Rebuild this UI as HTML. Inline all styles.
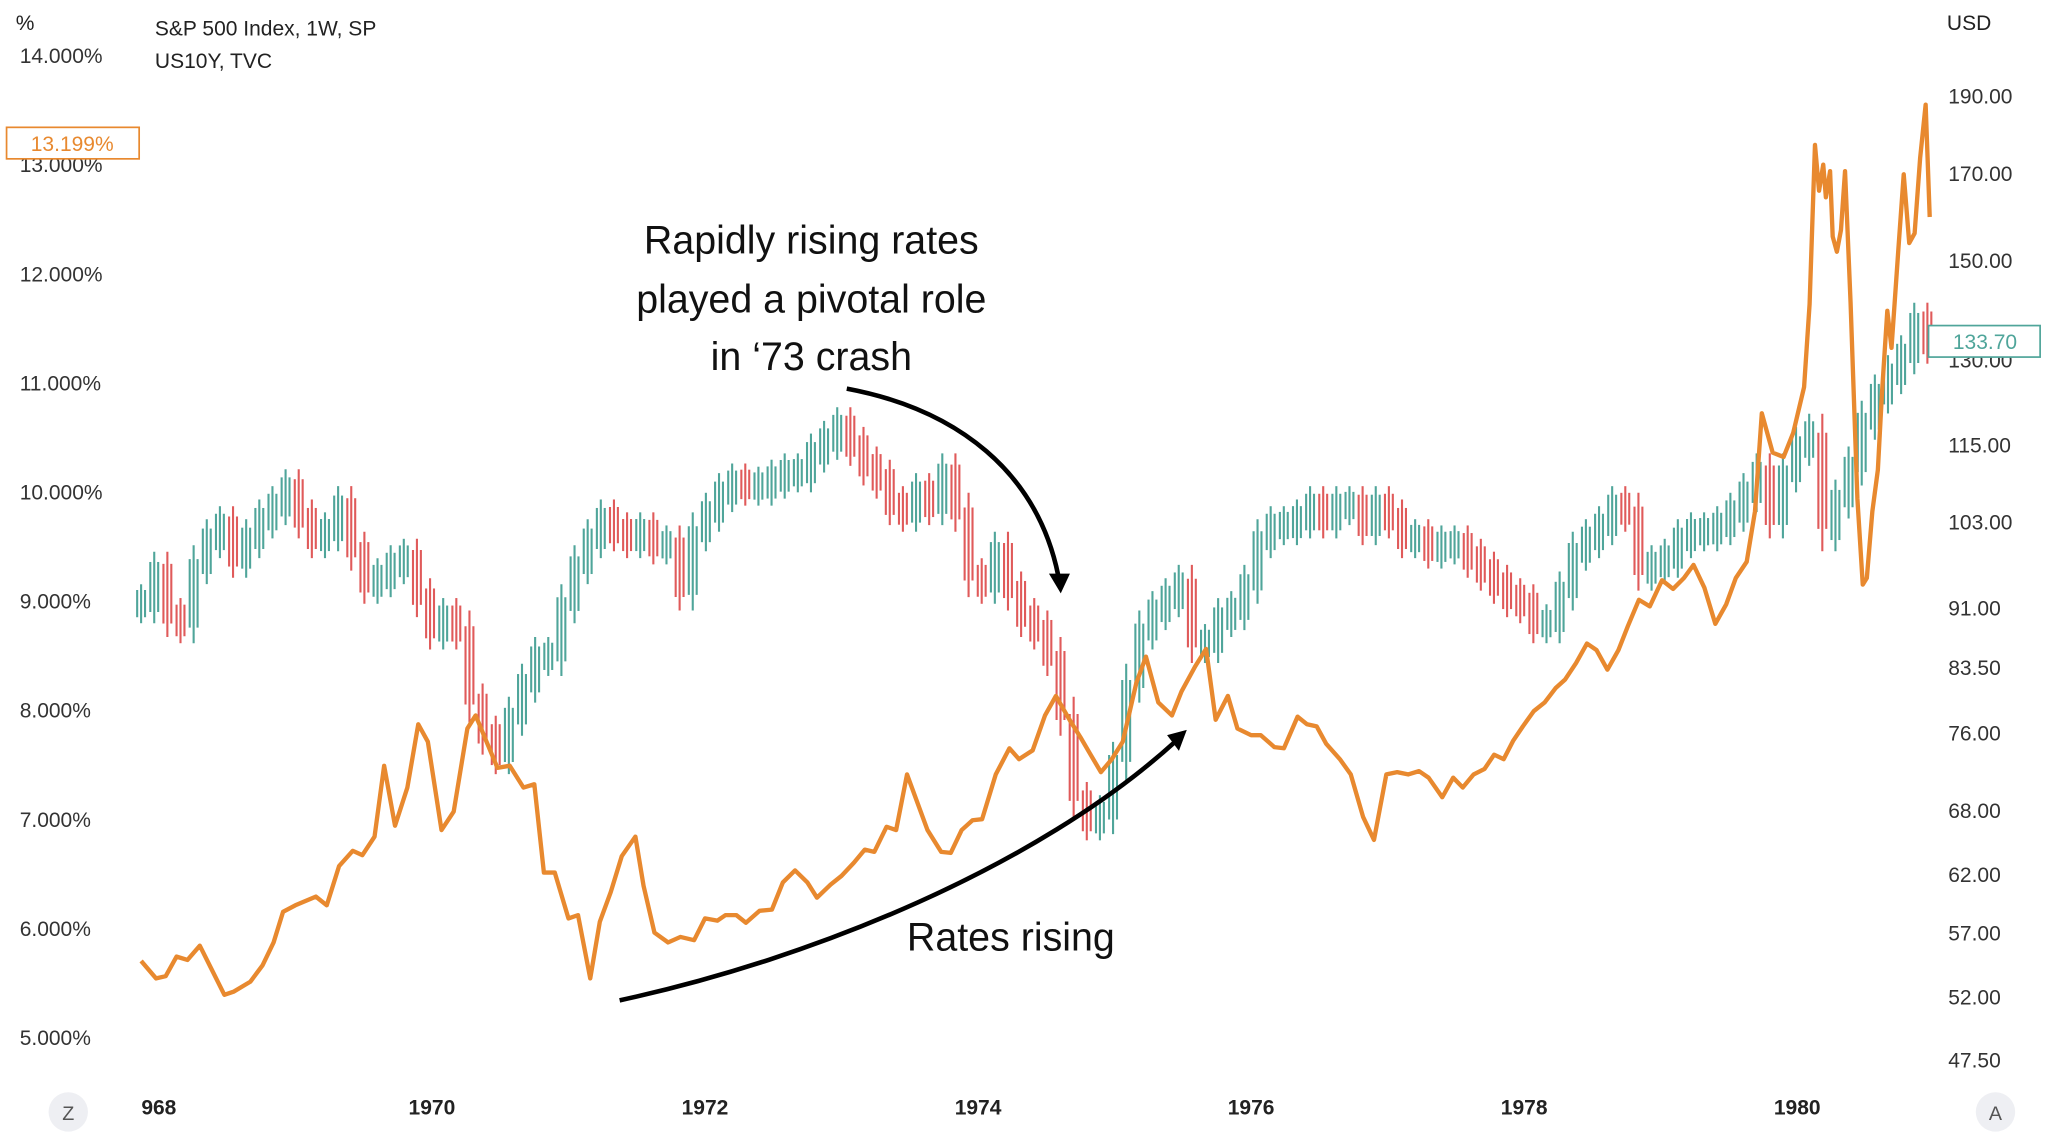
<!DOCTYPE html>
<html><head><meta charset="utf-8"><style>
html,body{margin:0;padding:0;background:#fff;}
svg{display:block;font-family:"Liberation Sans",sans-serif;}
</style></head><body>
<svg id="chart" width="2048" height="1132" viewBox="0 0 1560 862.3" preserveAspectRatio="none" xmlns="http://www.w3.org/2000/svg">
<rect x="0" y="0" width="1560" height="862.3" fill="#fff"/>
<g id="leftAxis"></g>
<g id="rightAxis"></g>
<g id="xAxis"></g>
<g id="candles"></g>
<g id="yieldG"></g>
<text x="12" y="23" font-size="16" fill="#222">%</text>
<text x="118" y="27" font-size="16" fill="#222">S&amp;P 500 Index, 1W, SP</text>
<text x="118" y="52" font-size="16" fill="#222">US10Y, TVC</text>
<text x="1483" y="23" font-size="16" fill="#222">USD</text>
<g font-size="30" fill="#111" text-anchor="middle">
<text x="618" y="193">Rapidly rising rates</text>
<text x="618" y="238">played a pivotal role</text>
<text x="618" y="282">in ‘73 crash</text>
</g>
<text x="770" y="724" font-size="30" fill="#111" text-anchor="middle">Rates rising</text>
<path d="M645,296 C730,312 790,360 806,438" fill="none" stroke="#000" stroke-width="3.5"/>
<polygon points="799,437 815,437 808,452" fill="#000"/>
<path d="M472,762 C620,730 790,660 894,566" fill="none" stroke="#000" stroke-width="3.5"/>
<polygon points="889,560 904,556 898,572" fill="#000"/>
<g>
<rect x="5" y="97" width="101" height="24" fill="#fff" stroke="#e8892f" stroke-width="1.3"/>
<text x="55" y="115" font-size="16" fill="#e8892f" text-anchor="middle">13.199%</text></g>
<g>
<rect x="1469" y="248" width="85" height="24" fill="#fff" stroke="#4fa59a" stroke-width="1.3"/>
<text x="1512" y="266" font-size="16" fill="#4fa59a" text-anchor="middle">133.70</text></g>
<g><circle cx="52" cy="847" r="15" fill="#eeeff3"/><text x="52" y="853" font-size="15" fill="#555" text-anchor="middle">Z</text></g>
<g><circle cx="1520" cy="847" r="15" fill="#eeeff3"/><text x="1520" y="853" font-size="15" fill="#555" text-anchor="middle">A</text></g>
</svg>
<script>
const leftTicks=[14,13,12,11,10,9,8,7,6,5];
const rightTicks=[190,170,150,130,115,103,91,83.5,76,68,62,57,52,47.5];
const yearTicks=[1968,1970,1972,1974,1976,1978,1980];
const spStart=1967.87;
const spStep=0.0962;
const spClose=[91.7,96.1,89.9,89.1,97.0,100.7,102.6,97.9,100.7,103.6,105.6,108.2,103.6,100.7,101.7,105.6,98.9,94.3,95.2,97.0,97.9,92.5,88.3,89.9,88.3,79.5,75.9,73.8,78.0,81.8,85.0,85.0,91.7,97.0,100.7,103.6,101.7,100.7,101.7,99.8,99.8,93.4,101.7,104.6,107.6,109.1,108.6,108.6,109.7,110.7,110.7,113.9,116.0,118.3,115.0,111.8,109.7,105.6,104.6,107.6,105.6,110.7,104.6,95.2,94.3,98.9,93.4,89.9,88.3,85.0,78.0,69.0,67.1,67.7,73.1,81.8,88.3,90.8,92.5,94.3,86.6,86.6,89.9,90.8,94.3,100.7,102.6,102.6,103.6,105.6,103.6,105.6,105.6,102.6,105.6,103.6,100.7,100.7,99.2,99.8,99.8,97.9,96.1,94.3,92.5,91.7,89.1,89.1,93.4,98.9,100.7,102.6,105.6,104.6,96.1,97.0,97.9,100.7,101.7,101.7,102.6,104.6,107.6,110.7,103.6,110.7,115.0,117.2,101.7,106.6,111.8,119.4,124.0,127.5,131.2,137.5,133.2];
const yieldDates=[1967.87,1967.98,1968.05,1968.13,1968.21,1968.30,1968.38,1968.48,1968.55,1968.67,1968.76,1968.84,1968.91,1969.00,1969.15,1969.23,1969.32,1969.42,1969.49,1969.58,1969.65,1969.73,1969.82,1969.90,1969.97,1970.07,1970.16,1970.26,1970.32,1970.40,1970.48,1970.57,1970.67,1970.75,1970.82,1970.90,1971.00,1971.07,1971.16,1971.23,1971.31,1971.39,1971.49,1971.55,1971.63,1971.73,1971.82,1971.92,1972.00,1972.09,1972.15,1972.23,1972.30,1972.40,1972.49,1972.57,1972.66,1972.75,1972.82,1972.92,1973.00,1973.09,1973.17,1973.24,1973.33,1973.40,1973.48,1973.55,1973.63,1973.73,1973.80,1973.88,1973.96,1974.03,1974.13,1974.23,1974.30,1974.40,1974.49,1974.57,1974.67,1974.75,1974.82,1974.90,1974.98,1975.06,1975.16,1975.23,1975.32,1975.42,1975.49,1975.59,1975.67,1975.74,1975.83,1975.90,1976.00,1976.07,1976.17,1976.24,1976.34,1976.41,1976.48,1976.55,1976.65,1976.73,1976.82,1976.90,1976.99,1977.07,1977.15,1977.23,1977.30,1977.40,1977.48,1977.55,1977.63,1977.71,1977.78,1977.85,1977.92,1977.99,1978.07,1978.15,1978.23,1978.30,1978.38,1978.46,1978.53,1978.61,1978.69,1978.76,1978.84,1978.92,1979.01,1979.09,1979.17,1979.24,1979.32,1979.40,1979.48,1979.55,1979.63,1979.69,1979.74,1979.82,1979.90,1979.97,1980.05,1980.09,1980.13,1980.16,1980.19,1980.21,1980.24,1980.26,1980.29,1980.32,1980.35,1980.39,1980.44,1980.48,1980.51,1980.55,1980.59,1980.62,1980.66,1980.69,1980.74,1980.78,1980.82,1980.86,1980.90,1980.94,1980.97];
const yieldValues=[5.71,5.55,5.57,5.75,5.72,5.85,5.65,5.40,5.43,5.52,5.67,5.88,6.16,6.22,6.30,6.22,6.58,6.72,6.68,6.85,7.50,6.95,7.30,7.88,7.72,6.91,7.08,7.84,7.96,7.72,7.48,7.50,7.30,7.33,6.52,6.52,6.10,6.13,5.55,6.07,6.34,6.67,6.85,6.40,5.97,5.88,5.93,5.90,6.10,6.08,6.13,6.13,6.06,6.17,6.18,6.43,6.54,6.43,6.29,6.41,6.49,6.61,6.73,6.71,6.94,6.91,7.42,7.18,6.91,6.71,6.70,6.91,7.00,7.01,7.42,7.66,7.56,7.64,7.96,8.14,7.92,7.76,7.61,7.44,7.56,7.72,8.26,8.50,8.08,7.96,8.18,8.41,8.57,7.92,8.14,7.84,7.78,7.78,7.67,7.66,7.95,7.88,7.86,7.70,7.56,7.42,7.03,6.82,7.42,7.44,7.42,7.45,7.39,7.21,7.39,7.30,7.42,7.47,7.60,7.56,7.73,7.86,8.00,8.08,8.21,8.29,8.44,8.62,8.56,8.38,8.56,8.78,9.02,8.96,9.20,9.12,9.22,9.34,9.13,8.80,8.98,9.22,9.37,9.83,10.73,10.37,10.33,10.55,10.97,11.73,13.19,12.77,13.01,12.71,12.95,12.35,12.21,12.41,12.95,11.75,9.95,9.16,9.22,9.83,10.21,10.91,11.67,11.33,12.23,12.92,12.29,12.38,13.07,13.56,12.53];

const NS='http://www.w3.org/2000/svg';
function xPos(t){return 329+(t-1970)*104;}
function yLeft(p){return 791-(p-5)*83.1;}
function yRight(v){return 808-Math.log(v/47.5)*529.5;}
function mk(tag,attrs,parent){const e=document.createElementNS(NS,tag);for(const k in attrs)e.setAttribute(k,attrs[k]);parent.appendChild(e);return e;}

const la=document.getElementById('leftAxis');
leftTicks.forEach(p=>{const t=mk('text',{x:15,y:yLeft(p)+5,'font-size':16,fill:'#333'},la);


t.textContent=p.toFixed(3)+'%';});
const ra=document.getElementById('rightAxis');
rightTicks.forEach(v=>{const t=mk('text',{x:1484,y:yRight(v)+5,'font-size':16,fill:'#333'},ra);


t.textContent=v.toFixed(2);});
const xa=document.getElementById('xAxis');
yearTicks.forEach(yv=>{const t=mk('text',{x:xPos(yv),y:849,'font-size':16,'font-weight':'bold',fill:'#222','text-anchor':'middle'},xa);


t.textContent=(yv===1968?'968':String(yv));});

const cg=document.getElementById('candles');
spClose.forEach((c,i)=>{const o=i>0?spClose[i-1]:c;const t=spStart+i*spStep;
const hi=Math.max(o,c)*1.028,lo=Math.min(o,c)*0.972;
const col=c>=o?'#4fa59a':'#e05a5a';
[-3,0,3].forEach(dx=>{
const l=mk('line',{x1:xPos(t)+dx,x2:xPos(t)+dx,y1:yRight(hi-(dx?(hi-lo)*0.15:0)),y2:yRight(lo+(dx?(hi-lo)*0.15:0)),stroke:col,'stroke-width':1.6},cg);

});});

const yg=document.getElementById('yieldG');
const d=yieldValues.map((v,i)=>(i?'L':'M')+xPos(yieldDates[i]).toFixed(1)+','+yLeft(v).toFixed(1)).join(' ');
const pl=mk('path',{d:d,fill:'none',stroke:'#e8892f','stroke-width':3.3,'stroke-linejoin':'round'},yg);


</script>
</body></html>
